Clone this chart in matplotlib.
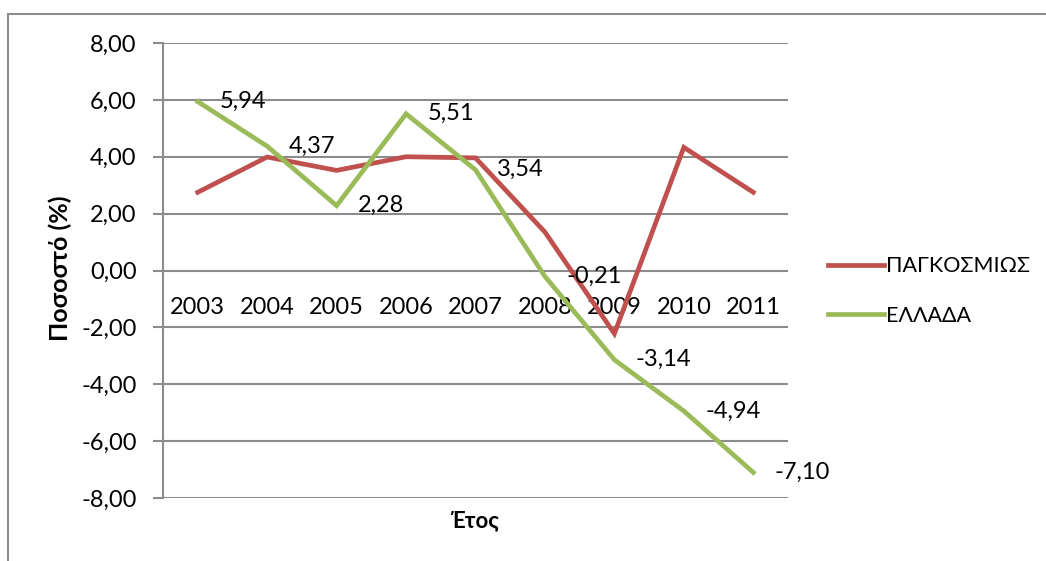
import numpy as np
import matplotlib
matplotlib.use("Agg")
import matplotlib.pyplot as plt
from matplotlib.patches import Rectangle

plt.rcParams['font.family'] = ['Lato', 'Noto Sans', 'DejaVu Sans']

years = ['2003', '2004', '2005', '2006', '2007', '2008', '2009', '2010', '2011']
world = [2.75, 3.99, 3.52, 4.0, 3.96, 1.35, -2.22, 4.33, 2.75]
greece = [5.94, 4.37, 2.28, 5.51, 3.54, -0.21, -3.14, -4.94, -7.10]
series_names = ['ΠΑΓΚΟΣΜΙΩΣ', 'ΕΛΛΑΔΑ']

red = '#C0504D'
green = '#9BBB59'
grid_c = '#8C8C8C'

fig = plt.figure(figsize=(10.46, 5.61), dpi=100)
# outer chart frame
fig.patches.append(Rectangle((8/1046, -0.1), 1.2, 1.1 - 14/561, transform=fig.transFigure,
                             fill=False, edgecolor='#8C8C8C', linewidth=1.5))

ax = fig.add_axes([163/1046, 1 - 498/561, 625/1046, 455/561])
x = np.arange(len(years))

ax.plot(x, world, color=red, lw=3.4, label=series_names[0], solid_joinstyle='miter', zorder=3)
ax.plot(x, greece, color=green, lw=3.4, label=series_names[1], solid_joinstyle='miter', zorder=3)

for xi, v in zip(x, greece):
    ax.annotate(f"{v:.2f}".replace('.', ','), (xi, v), xytext=(15.5, 0),
                textcoords='offset points', ha='left', va='center', fontsize=17,
                zorder=4)

ax.set_xlim(-0.5, len(years) - 0.5)
ax.set_ylim(-8, 8)
ax.set_yticks(np.arange(-8, 9, 2))
ax.set_yticklabels([f"{t:.2f}".replace('.', ',') for t in np.arange(-8, 9, 2)])
ax.yaxis.grid(True, color=grid_c, lw=1.5)
ax.set_axisbelow(True)
ax.tick_params(axis='y', length=7, width=1.5, color=grid_c, pad=12, labelsize=17)

# category axis crosses at zero, labels just under the zero line
ax.spines['bottom'].set_position(('data', 0))
ax.spines['bottom'].set_visible(False)
ax.set_xticks(x)
ax.set_xticklabels(years)
ax.tick_params(axis='x', length=0, pad=19, labelsize=17)

for s in ['top', 'right']:
    ax.spines[s].set_visible(False)
ax.spines['left'].set_color(grid_c)
ax.spines['left'].set_linewidth(1.5)

fig.text(60/1046, 1 - 268/561, 'Ποσοστό (%)', rotation=90, ha='center', va='center',
         fontsize=18, fontweight='bold')
fig.text(474/1046, 1 - 521/561, 'Έτος', ha='center', va='center',
         fontsize=16, fontweight='bold')

ax.legend(loc='center left', bbox_to_anchor=(828/1046, 1 - 291/561),
          bbox_transform=fig.transFigure, frameon=False, fontsize=15.5,
          handlelength=2.6, handletextpad=0.1, labelspacing=1.35,
          borderpad=0, borderaxespad=0)

fig.savefig('out.png', dpi=100)
